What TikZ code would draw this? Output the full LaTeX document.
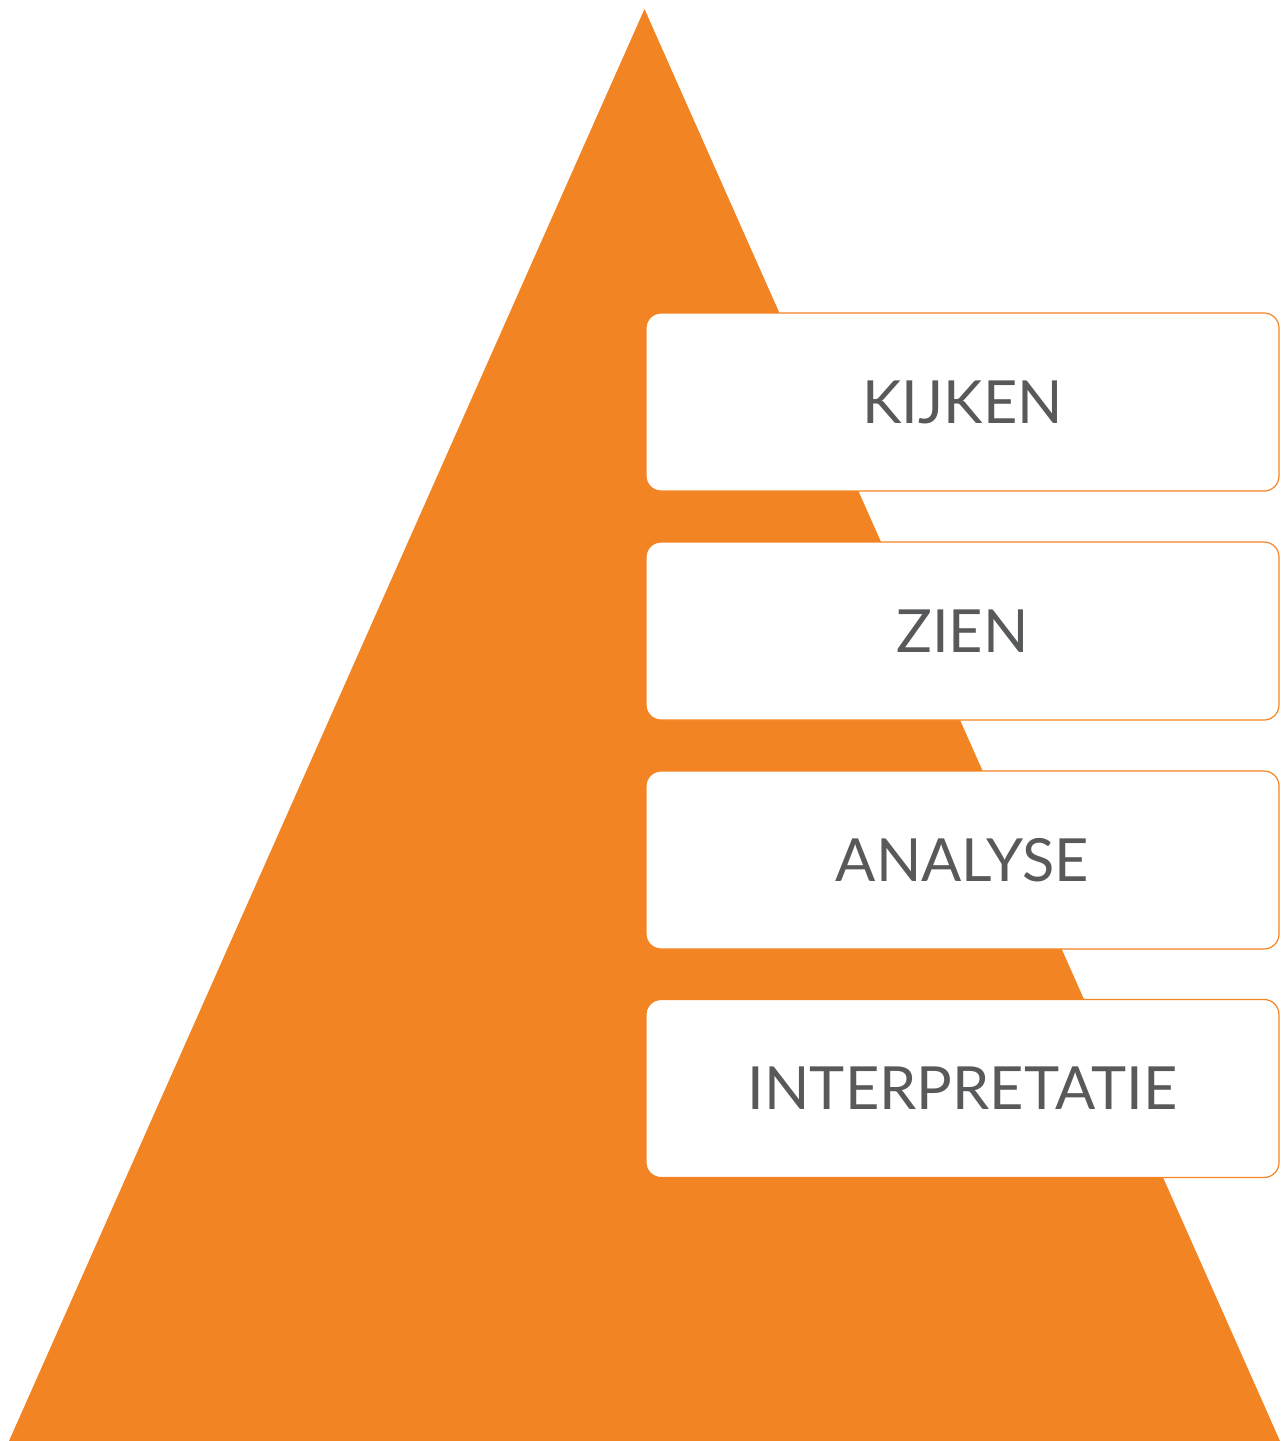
\documentclass[tikz,border=0pt]{standalone}
\usepackage{fontspec}
\setmainfont{Lato}
\definecolor{pyrorange}{HTML}{F38423}
\definecolor{labelgray}{HTML}{58595B}
\begin{document}
\begin{tikzpicture}[x=1pt,y=-1pt,
  level/.style={draw=pyrorange, line width=1.2pt, fill=white, rounded corners=15pt,
    minimum width=633pt, minimum height=178pt, inner sep=0pt,
    text=labelgray, font=\fontsize{59.5}{60}\selectfont},
]
\useasboundingbox (0,0) rectangle (1286,1441);
\fill[pyrorange] (644.5,9) coordinate (apex) -- (1280,1441) coordinate (br) -- (9,1441) coordinate (bl) -- cycle;
\node[level] (k) at (962.5,402) {KIJKEN};
\node[level] (z) at (962.5,631) {ZIEN};
\node[level] (a) at (962.5,860) {ANALYSE};
\node[level] (i) at (962.5,1088.5) {INTERPRETATIE};
\end{tikzpicture}
\end{document}
